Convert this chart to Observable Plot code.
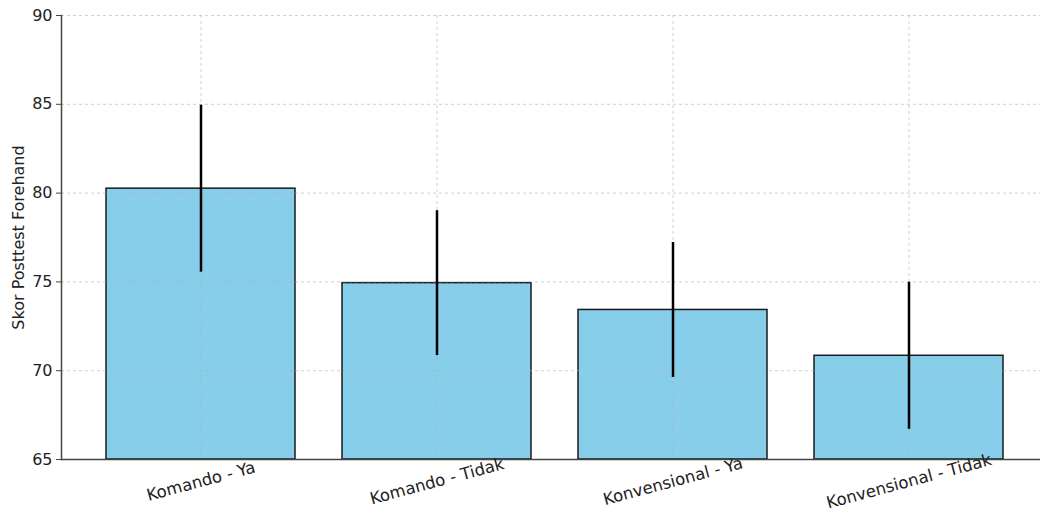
<!DOCTYPE html>
<html>
<head>
<meta charset="utf-8">
<script src="https://cdn.jsdelivr.net/npm/d3@7"></script>
<script src="https://cdn.jsdelivr.net/npm/@observablehq/plot@0.6"></script>
<style>
  html, body { margin: 0; padding: 0; background: #fff; }
  #chart svg { display: block; font-family: "DejaVu Sans", sans-serif; }
</style>
</head>
<body>
<div id="chart"></div>
<script>
const categories = ["Komando - Ya", "Komando - Tidak", "Konvensional - Ya", "Konvensional - Tidak"];
const means = [80.25, 74.93, 73.42, 70.84];
const sds = [4.7, 4.08, 3.8, 4.14];
const yTicks = [65, 70, 75, 80, 85, 90];
const yLabel = "Skor Posttest Forehand";

const data = categories.map((c, i) => ({ cat: c, mean: means[i], lo: means[i] - sds[i], hi: means[i] + sds[i] }));
const yMin = yTicks[0], yMax = yTicks[yTicks.length - 1];

const chart = Plot.plot({
  width: 1040,
  height: 515,
  marginLeft: 61,
  marginRight: 0,
  marginTop: 15,
  marginBottom: 56,
  style: { fontFamily: "DejaVu Sans, sans-serif", fontSize: "14px", color: "#222", background: "#fff" },
  x: { domain: categories, range: [61, 1048], paddingInner: 0.2, paddingOuter: 0.19, label: null },
  y: { domain: [yMin, yMax], label: null },
  marks: [
    Plot.barY(data, { x: "cat", y1: yMin, y2: "mean", fill: "#87ceeb", stroke: "#1a1a1a", strokeWidth: 1.5 }),
    Plot.gridY(yTicks, { stroke: "#b0b0b0", strokeOpacity: 0.6, strokeDasharray: "3,3", strokeWidth: 1 }),
    Plot.gridX(categories, { stroke: "#b0b0b0", strokeOpacity: 0.6, strokeDasharray: "3,3", strokeWidth: 1 }),
    Plot.ruleX(data, { x: "cat", y1: "lo", y2: "hi", stroke: "#000", strokeWidth: 2.5 }),
    Plot.ruleY([yMin], { stroke: "#444", strokeWidth: 1.5 }),
    Plot.frame({ anchor: "left", stroke: "#444", strokeWidth: 1.5 }),
    Plot.axisY(yTicks, { tickSize: 5, tickPadding: 4, fontSize: 16, stroke: "#444", fill: "#222", label: null }),
    Plot.text([yLabel], { frameAnchor: "left", rotate: -90, dx: -43, fontSize: 16, fill: "#222", textAnchor: "middle" }),
    Plot.axisX(categories, { tickSize: 0, tickPadding: 0, tickRotate: -15, textAnchor: "middle", fontSize: 16.5, dy: 22, fill: "#222", label: null })
  ]
});
document.getElementById("chart").appendChild(chart);
</script>
</body>
</html>
